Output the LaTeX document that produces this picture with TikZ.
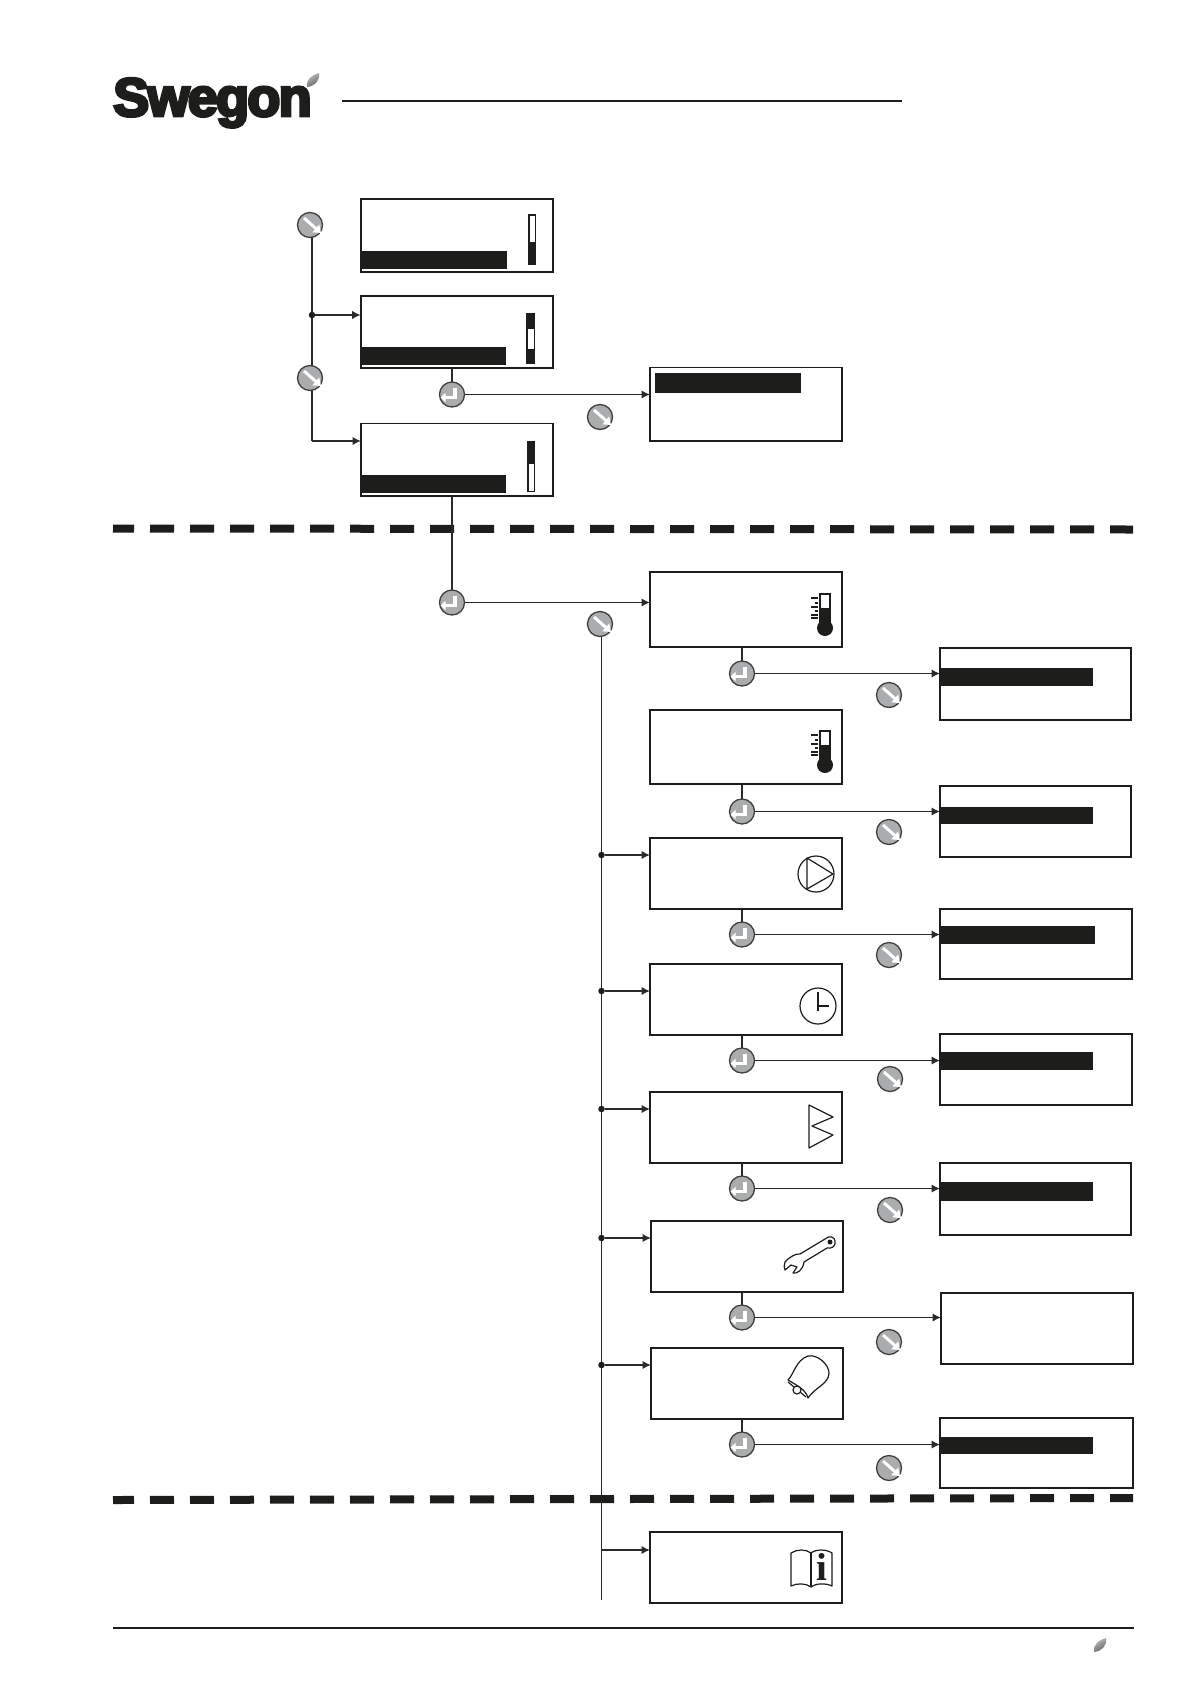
\documentclass[tikz,border=0pt]{standalone}
\usepackage{fontspec}
\usetikzlibrary{arrows.meta,backgrounds,calc}
\setmainfont{Liberation Sans}
\newfontfamily\logofont[FakeBold=5.5,LetterSpace=-3.2]{Liberation Sans Bold}
\newfontfamily\infofont{Liberation Serif Bold}
\definecolor{ink}{HTML}{1D1D1B}
\definecolor{btn}{HTML}{ABACAE}
\definecolor{link}{HTML}{2A2A2A}
\tikzset{
  screen/.style={draw=ink,line width=1.9pt,fill=white,inner sep=0pt,outer sep=0pt,rectangle},
  thinscreen/.style={screen,line width=1.2pt},
  button/.style={circle,draw=ink!85,line width=1.3pt,fill=btn,minimum size=25pt,inner sep=0pt,outer sep=0pt},
  link/.style={draw=link,line width=1.7pt},
  flow/.style={link,-{Latex[length=8.5pt,width=8.5pt]}},
  junction/.style={circle,fill=ink,minimum size=6.5pt,inner sep=0pt,outer sep=0pt},
  divider/.style={draw=ink,line width=8pt,dash pattern=on 24pt off 16pt,dash phase=3pt},
  rule/.style={draw=ink,line width=2pt},
  icon/.style={draw=ink,line width=1.2pt,line join=round},
}
\newcommand{\lcd}[6][screen]{\node[#1,minimum width=(#5-#3)*1pt,minimum height=(#6-#4)*1pt] (#2) at ({(#3+#5)/2},{(#4+#6)/2}) {};}
\newcommand{\blk}[4]{\fill[ink] (#1,#2) rectangle (#3,#4);}
\newcommand{\dnbtn}[3]{\node[button] (#1) at (#2,#3) {};
  \draw[white,line width=3pt,-{Triangle[length=7pt,width=10pt]}] ($(#1)+(-6,-7)$) -- ($(#1)+(11,8)$);}
\newcommand{\enbtn}[3]{\node[button] (#1) at (#2,#3) {};
  \draw[white,line width=3.4pt,-{Triangle[length=5pt,width=9pt]}] ($(#1)+(3,-7)$) -- ($(#1)+(3,3)$) -- ($(#1)+(-11.5,3)$);}
\newcommand{\leaf}[2]{\begin{scope}[shift={(#1,#2)}]
  \shade[left color=black!25,right color=black!62,shading angle=30] (0,0) .. controls (-1,-8) and (5,-12) .. (12,-14) .. controls (13,-6) and (8,-1) .. (0,0) -- cycle;
  \end{scope}}
\newcommand{\therm}[2]{% x of tube left, y of top
  \fill[ink] (#1+5,#2+34) circle (8);
  \draw[ink,line width=1.2pt] (#1,#2) rectangle (#1+10,#2+30);
  \fill[ink] (#1,#2+14) rectangle (#1+10,#2+30);
  \foreach \ty/\tl in {4/7,9/3,13/7,17/3,21/7,24/7} \draw[ink,line width=1.1pt] (#1-2-\tl,#2+\ty) -- (#1-2,#2+\ty);
  \foreach \ty in {8,12,16,20} \fill[ink] (#1-5,#2+\ty) rectangle +(2,1.5);}
\begin{document}
\begin{tikzpicture}[x=1pt,y=-1pt]
\useasboundingbox (0,0) rectangle (1191,1684);
\begin{scope}[on background layer]
\fill[white] (0,0) rectangle (1191,1684);
\end{scope}

% header
\node[anchor=base west,inner sep=0pt,text=ink,font=\fontsize{54}{54}\logofont] (logo) at (113,116) {Swegon};
\leaf{307}{87}
\coordinate (headL) at (342,101); \coordinate (headR) at (902,101);
\draw[rule] (headL) -- (headR);

% top group
\lcd{topA}{360.7}{199}{553}{272}
\lcd{topB}{360.7}{296}{553}{368}
\lcd{topC}{361}{423.5}{553}{496}
\lcd{topR}{650}{367.5}{842}{441}
\blk{361}{251}{507}{269}
\fill[ink] (528,214) rectangle (536,265); \fill[white] (529.5,216) rectangle (534.5,242);
\blk{361}{347}{506}{365}
\fill[ink] (526,313) rectangle (535,364); \fill[white] (527.5,329) rectangle (533.5,349);
\blk{361}{475}{506}{493}
\fill[ink] (527,441) rectangle (535,492); \fill[white] (528.5,464) rectangle (533.5,490.5);
\blk{655}{373}{801}{393}

\dnbtn{dn1}{310}{225}
\dnbtn{dn2}{310}{378}
\enbtn{en1}{452}{394.5}
\dnbtn{dnR}{600}{417}
\enbtn{en2}{452}{602.5}
\dnbtn{dn3}{600}{624}

% main column
\lcd{scrA}{650}{572}{842}{647}
\lcd[thinscreen]{scrB}{650}{710}{842}{784}
\lcd{scrC}{650}{838}{842}{909}
\lcd{scrD}{650}{964}{842}{1035}
\lcd{scrE}{650}{1092}{842}{1163}
\lcd{scrF}{651}{1221}{843}{1292}
\lcd[thinscreen]{scrG}{651}{1348}{843}{1419}
\lcd{scrH}{650}{1532}{842}{1603}

% right column
\lcd{subA}{940}{648}{1131}{720}
\lcd[thinscreen]{subB}{940}{786}{1131}{857}
\lcd{subC}{940}{909}{1132}{979}
\lcd{subD}{940}{1034}{1132}{1105}
\lcd[thinscreen]{subE}{940}{1163}{1131}{1235}
\lcd[thinscreen]{subF}{941}{1293}{1133}{1364}
\lcd{subG}{940}{1418}{1133}{1488}
\blk{940}{668}{1093}{686}
\blk{940}{806.5}{1093}{824}
\blk{941}{926}{1095}{944}
\blk{941}{1052}{1093}{1070}
\blk{940}{1182}{1093}{1201}
\blk{941}{1437}{1093}{1454}

\enbtn{enA}{742}{673.5} \dnbtn{dnA}{889}{695}
\enbtn{enB}{742}{811.5} \dnbtn{dnB}{889}{832}
\enbtn{enC}{742}{934.5} \dnbtn{dnC}{889}{955}
\enbtn{enD}{742}{1060.5} \dnbtn{dnD}{890}{1079}
\enbtn{enE}{742}{1188.5} \dnbtn{dnE}{890}{1210}
\enbtn{enF}{742}{1317.5} \dnbtn{dnF}{889}{1342}
\enbtn{enG}{742}{1444.5} \dnbtn{dnG}{889}{1468}

% junctions
\node[junction] (j0) at (312,315) {};
\coordinate (c0) at (312,441);
\node[junction] (jC) at (601.5,855) {};
\node[junction] (jD) at (601.5,991) {};
\node[junction] (jE) at (601.5,1109) {};
\node[junction] (jF) at (601.5,1238) {};
\node[junction] (jG) at (601.5,1365) {};
\coordinate (jH) at (601.5,1550);
\coordinate (trunkEnd) at (601.5,1600);

% icons
\therm{820}{594}
\therm{820}{731}
\node[circle,icon,fill=none,minimum size=36pt,inner sep=0pt] (pump) at (816,874) {};
\draw[icon,line width=1.2pt] (807,858) -- (833,874) -- (807,889) -- cycle;
\node[circle,icon,fill=none,minimum size=36pt,inner sep=0pt] (clock) at (818,1006) {};
\draw[ink,line width=2pt] (clock.center) ++(0,-14) -- ++(0,19);
\draw[ink,line width=1.1pt] (clock.center) -- ++(11,0);
\draw[icon] (809,1105) -- (833,1117) -- (812,1126) -- (833,1135) -- (809,1148) -- cycle;
% wrench
\draw[icon] (825,1239) -- (800,1254) .. controls (796,1253) and (788,1258) .. (785,1262)
  .. controls (784,1266) and (784,1268) .. (785,1270) -- (791,1265) -- (797,1267) -- (793,1273)
  .. controls (797,1274) and (803,1270) .. (804,1262) -- (827,1248)
  .. controls (832,1249) and (836,1246) .. (835,1241) .. controls (835,1237) and (829,1235) .. (825,1239) -- cycle;
\fill[ink] (830,1242) circle (2.5);
% bell
\draw[icon] (788,1380) .. controls (794,1374) and (796,1360) .. (808,1356)
  .. controls (818,1354) and (829,1365) .. (829,1373)
  .. controls (829,1384) and (814,1388) .. (808,1398)
  .. controls (806,1390) and (798,1386) .. (788,1380) -- cycle;
\draw[icon] (788,1382) -- (806,1397);
\draw[icon,fill=white] (797,1390) circle (4);
% book
\draw[icon] (791,1553) .. controls (797,1549) and (806,1549) .. (811,1553) .. controls (816,1549) and (826,1549) .. (832,1553)
  -- (832,1586) .. controls (826,1583) and (816,1583) .. (811,1587) .. controls (806,1583) and (797,1583) .. (791,1586) -- cycle;
\draw[icon] (811,1553) -- (811,1587);
\node[anchor=base,inner sep=0pt,text=ink,font=\fontsize{39}{39}\infofont] (infoi) at (822,1580) {i};

% footer
\coordinate (footL) at (113,1628); \coordinate (footR) at (1134,1628);
\draw[rule] (footL) -- (footR);
\leaf{1094}{1652}

% connectors and dividers below buttons
\begin{scope}[on background layer]
\coordinate (divA) at (113,528.5); \coordinate (divB) at (1133,529.5);
\coordinate (divC) at (113,1500); \coordinate (divD) at (1133,1498);
\draw[divider] (divA) -- (divB);
\draw[divider] (divC) -- (divD);
\draw[link] (j0|-dn1) -- (j0);
\draw[link] (j0) -- (c0);
\draw[flow] (j0) -- (topB.west|-j0);
\draw[flow] (c0) -- (topC.west|-c0);
\draw[link] (en1|-topB.south) -- (en1);
\draw[flow] (en1) -- (topR.west|-en1);
\draw[link] (en2|-topC.south) -- (en2);
\draw[flow] (en2) -- (scrA.west|-en2);
\draw[link] (jC|-dn3) -- (trunkEnd);
\foreach \j/\s in {jC/scrC,jD/scrD,jE/scrE,jF/scrF,jG/scrG,jH/scrH}
  \draw[flow] (\j) -- (\s.west|-\j);
\foreach \e/\s/\t in {enA/scrA/subA,enB/scrB/subB,enC/scrC/subC,enD/scrD/subD,enE/scrE/subE,enF/scrF/subF,enG/scrG/subG}{
  \draw[link] (\e|-\s.south) -- (\e);
  \draw[flow] (\e) -- (\t.west|-\e);
}
\end{scope}
\end{tikzpicture}
\end{document}
